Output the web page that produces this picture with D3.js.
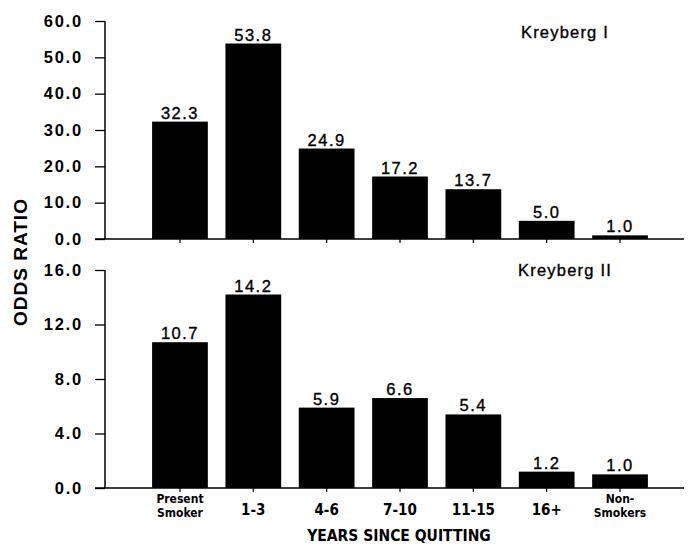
<!DOCTYPE html>
<html><head><meta charset="utf-8">
<script src="https://cdn.jsdelivr.net/npm/d3@7"></script>
<style>
body{margin:0;background:#fff;}
svg{display:block;}
</style></head>
<body>
<script>
const categories = ["Present|Smoker","1-3","4-6","7-10","11-15","16+","Non-|Smokers"];
const kreybergI = [32.3, 53.8, 24.9, 17.2, 13.7, 5.0, 1.0];
const kreybergII = [10.7, 14.2, 5.9, 6.6, 5.4, 1.2, 1.0];
const ticksI = [0,10,20,30,40,50,60];
const ticksII = [0,4,8,12,16];
const panelTitles = ["Kreyberg I","Kreyberg II"];
const yTitle = "ODDS RATIO";
const xTitle = "YEARS SINCE QUITTING";

const W=688,H=550;
const svg=d3.select("body").append("svg").attr("width",W).attr("height",H);

const x=d3.scaleBand().domain(categories).range([143.3,656.7]).paddingInner(0.24).paddingOuter(0.12);
const axisX=105, xEnd=684;

const panels=[
 {data:kreybergI,ticks:ticksI,max:60,y0:239,y1:21,title:panelTitles[0],ty:38},
 {data:kreybergII,ticks:ticksII,max:16,y0:488,y1:270,title:panelTitles[1],ty:276}
];

panels.forEach((p,pi)=>{
  const y=d3.scaleLinear().domain([0,p.max]).range([p.y0,p.y1]);
  const g=svg.append("g");
  g.selectAll("rect").data(p.data).join("rect")
   .attr("x",(d,i)=>x(categories[i])).attr("width",x.bandwidth())
   .attr("y",d=>y(d)).attr("height",d=>y(0)-y(d)).attr("fill","#000");
  g.selectAll("text.val").data(p.data).join("text").attr("class","val")
   .attr("x",(d,i)=>x(categories[i])+x.bandwidth()/2).attr("y",d=>y(d)-3)
   .attr("text-anchor","middle").attr("font-family","Liberation Sans, Arial, sans-serif")
   .attr("font-size",16.5).attr("letter-spacing",1.5).attr("stroke","#000").attr("stroke-width",0.35)
   .text(d=>d.toFixed(1));
  const ax=d3.axisLeft(y).tickValues(p.ticks).tickFormat(d3.format(".1f")).tickSize(10).tickPadding(12);
  const ag=g.append("g").attr("transform",`translate(${axisX},0)`).call(ax);
  ag.select(".domain").attr("stroke-width",1.5).attr("d",`M0,${p.y0}V${p.y1}`);
  ag.selectAll(".tick line").attr("stroke-width",1.3);
  ag.selectAll(".tick text").attr("font-family","Liberation Sans, Arial, sans-serif")
    .attr("font-size",16.5).attr("font-weight","bold").attr("letter-spacing",1.8).attr("fill","#000");
  const xa=d3.axisBottom(x).tickSize(4).tickFormat("");
  const xg=g.append("g").attr("transform",`translate(0,${p.y0})`).call(xa);
  xg.select(".domain").attr("d",`M${axisX-10},0H${xEnd}`).attr("stroke-width",1.5);
  xg.selectAll(".tick line").attr("stroke-width",1.2);
  g.append("text").attr("x",565).attr("y",p.ty).attr("text-anchor","middle")
   .attr("font-family","Liberation Sans, Arial, sans-serif").attr("font-size",16.5).attr("letter-spacing",1.2)
   .attr("stroke","#000").attr("stroke-width",0.35)
   .text(p.title);
});

const cl=svg.append("g");
const catFont="Liberation Sans Narrow, Arial Narrow, DejaVu Sans Condensed, sans-serif";
categories.forEach(c=>{
  const parts=c.split("|");
  const cx=x(c)+x.bandwidth()/2;
  if(parts.length>1){
    parts.forEach((s,k)=>{
      cl.append("text").attr("x",cx).attr("y",503+k*14).attr("text-anchor","middle")
        .attr("font-family",catFont).attr("font-weight","bold").attr("font-size",12).text(s);
    });
  } else {
    cl.append("text").attr("x",cx).attr("y",515).attr("text-anchor","middle")
      .attr("font-family",catFont).attr("font-weight","bold").attr("font-size",15).text(parts[0]);
  }
});

svg.append("text").attr("x",399).attr("y",541).attr("text-anchor","middle")
 .attr("font-family",catFont)
 .attr("font-weight","bold").attr("font-size",15.5).text(xTitle);

svg.append("text").attr("transform","translate(27,262) rotate(-90)").attr("text-anchor","middle")
 .attr("font-family","Liberation Sans, Arial, sans-serif").attr("font-weight","bold")
 .attr("font-size",19).attr("letter-spacing",1).text(yTitle);
</script>
</body></html>
